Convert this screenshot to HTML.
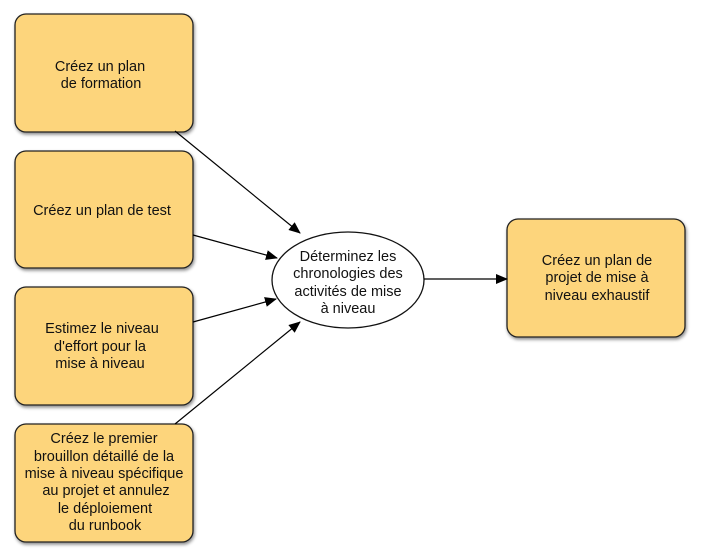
<!DOCTYPE html>
<html><head><meta charset="utf-8"><style>
html,body{margin:0;padding:0;background:#fff;}
svg{display:block;}
text{font-family:"Liberation Sans",sans-serif;font-size:14.5px;fill:#111;text-anchor:middle;}
</style></head><body>
<svg width="701" height="557" viewBox="0 0 701 557" xmlns="http://www.w3.org/2000/svg">
<defs>
<filter id="sh" x="-10%" y="-10%" width="130%" height="130%"><feDropShadow dx="1" dy="2" stdDeviation="1.5" flood-color="#000" flood-opacity="0.45"/></filter>
<marker id="ar" markerWidth="12" markerHeight="10" refX="11" refY="5" orient="auto" markerUnits="userSpaceOnUse"><path d="M0,0 L12,5 L0,10 Z" fill="#000"/></marker>
</defs>
<g fill="#fdd57b" stroke="#222" stroke-width="1.3" filter="url(#sh)">
<rect x="15" y="14" width="178" height="118" rx="11"/>
<rect x="15" y="151" width="178" height="117" rx="11"/>
<rect x="15" y="287" width="178" height="118" rx="11"/>
<rect x="15" y="424" width="178" height="118" rx="11"/>
<rect x="507" y="219" width="178" height="118" rx="11"/>
</g>
<ellipse cx="348" cy="280" rx="76" ry="48" fill="#fff" stroke="#111" stroke-width="1.3"/>
<g stroke="#000" stroke-width="1.2" fill="none" marker-end="url(#ar)">
<line x1="175" y1="131" x2="300" y2="233"/>
<line x1="193" y1="235" x2="277" y2="258"/>
<line x1="193" y1="322" x2="276" y2="299"/>
<line x1="175" y1="424" x2="300" y2="322"/>
<line x1="424" y1="279" x2="507" y2="279"/>
</g>
<text x="100" y="71">Créez un plan</text>
<text x="101" y="88">de formation</text>
<text x="102" y="215">Créez un plan de test</text>
<text x="102" y="333">Estimez le niveau</text>
<text x="100" y="351">d'effort pour la</text>
<text x="100" y="368">mise à niveau</text>
<text x="104" y="443">Créez le premier</text>
<text x="104" y="461">brouillon détaillé de la</text>
<text x="104" y="478">mise à niveau spécifique</text>
<text x="106" y="495">au projet et annulez</text>
<text x="105" y="513">le déploiement</text>
<text x="105" y="530">du runbook</text>
<text x="348" y="261">Déterminez les</text>
<text x="348" y="278">chronologies des</text>
<text x="348" y="296">activités de mise</text>
<text x="348" y="313">à niveau</text>
<text x="597" y="265">Créez un plan de</text>
<text x="597" y="282">projet de mise à</text>
<text x="597" y="300">niveau exhaustif</text>
</svg>
</body></html>
